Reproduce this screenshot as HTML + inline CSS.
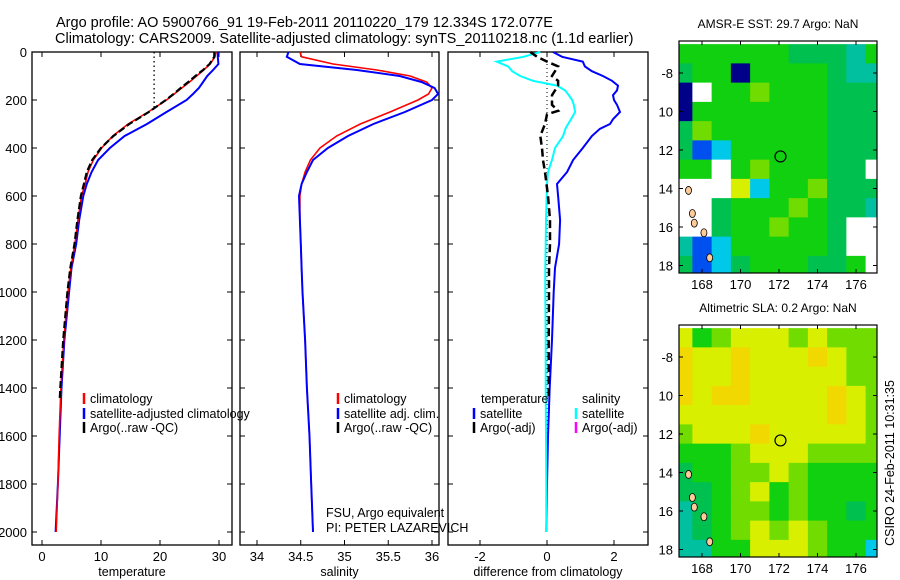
<!DOCTYPE html>
<html><head><meta charset="utf-8"><style>
body{margin:0;background:#fff;}
svg{display:block;font-family:"Liberation Sans",sans-serif;}
</style></head><body>
<svg id="fig" width="900" height="580" viewBox="0 0 900 580">
<text x="56" y="27" font-size="14.5">Argo profile: AO 5900766_91 19-Feb-2011 20110220_179 12.334S 172.077E</text>
<text x="55" y="43" font-size="14.5">Climatology: CARS2009. Satellite-adjusted climatology: synTS_20110218.nc (1.1d earlier)</text>
<g id="g"></g>
</svg>
<script>
const depths=[0,20,50,75,100,125,150,175,200,250,300,350,400,450,500,550,600,700,800,900,1000,1200,1400,1600,1800,2000];
const tempClim=[29.5,29.3,28.5,27.4,26.2,25.0,23.7,22.4,21.1,18.0,14.6,12.0,10.1,8.7,7.8,7.3,6.7,6.1,5.6,4.9,4.4,3.7,3.2,2.9,2.7,2.4];
const tempSat=[29.8,29.8,29.9,29.0,28.0,27.3,26.6,25.6,24.5,21.1,17.8,14.0,11.5,9.5,8.4,7.6,7.0,6.3,5.8,5.0,4.6,3.8,3.3,3.0,2.7,2.3];
const argoDepths=[0,20,50,75,100,125,150,175,200,250,300,350,400,450,500,550,600,700,800,900,1000,1200,1400,1450];
const tempArgo=[29.2,29.2,28.4,27.3,26.0,24.8,23.5,22.3,21.0,18.1,14.8,12.1,10.0,8.5,7.6,7.1,6.6,6.0,5.5,4.8,4.3,3.6,3.1,3.0];
const salClim=[34.49,34.51,34.87,35.37,35.75,35.94,36.0,35.96,35.84,35.52,35.18,34.91,34.72,34.61,34.55,34.51,34.49,34.49,34.5,34.51,34.52,34.55,34.57,34.6,34.62,34.64];
const salSat=[34.36,34.34,34.49,35.14,35.63,35.88,36.03,36.07,36.0,35.69,35.33,35.04,34.81,34.64,34.57,34.51,34.48,34.49,34.5,34.51,34.52,34.55,34.57,34.6,34.62,34.64];
const diffDepths=[0,20,40,60,80,100,120,140,160,180,200,220,250,280,300,320,350,400,450,500,550,600,700,800,900,1000,1200,1400,1600,1800,2000];
const diffTempSat=[0.18,0.45,1.07,1.13,1.34,1.67,1.94,2.12,2.09,1.97,2.0,2.09,2.18,1.97,1.88,1.58,1.34,1.07,0.78,0.6,0.3,0.33,0.39,0.36,0.24,0.2,0.15,0.08,0.03,0.0,-0.02];
const diffSalSat=[-0.2,-0.7,-1.5,-1.16,-1.04,-0.8,-0.42,0.3,0.54,0.65,0.75,0.8,0.84,0.72,0.63,0.55,0.48,0.24,0.15,0.03,0.0,-0.01,-0.03,-0.04,-0.05,-0.05,-0.04,-0.04,-0.03,-0.02,-0.02];
const diffArgoDepths=[0,20,40,60,80,100,120,140,180,220,245,260,300,350,400,450,500,600,700,800,900,1000,1200,1400,1450];
const diffTempArgo=[-0.5,-0.3,0.0,0.33,0.24,0.15,0.33,0.33,0.15,0.15,0.33,0.0,-0.06,-0.2,-0.15,-0.12,-0.06,0.03,0.09,0.09,0.06,0.06,0.05,0.05,0.05];
const depthTicks=[0,200,400,600,800,1000,1200,1400,1600,1800,2000];
const tempTicks=[0,10,20,30];
const salTicks=[34,34.5,35,35.5,36];
const salTickLabels=["34","34.5","35","35.5","36"];
const diffTicks=[-2,0,2];
const lonTicks=[168,170,172,174,176];
const latTicks=[-8,-10,-12,-14,-16,-18];
const latTickLabels=["-8","10","12","14","16","18"];
const mapLons=[167,168,169,170,171,172,173,174,175,176,177];
const mapLats=[-7,-8,-9,-10,-11,-12,-13,-14,-15,-16,-17,-18];
const sstGrid=["55555544435","45505555433","0W556555444","05555555444","46555555444","41255555444","55W5655544W","WWW72556444","WW455565443","WW4556554WW","312555554WW","4124555445W"];
const slaGrid=["75677767666","87787778766","87787777766","87887777876","77777777876","67778777776","55567776666","45566765555","44567565555","34566565545","34567676555","33557776552"];
const profileLat=-12.334, profileLon=172.077;

const NS='http://www.w3.org/2000/svg';
const G=document.getElementById('g');
function mk(tag,attrs,parent){const e=document.createElementNS(NS,tag);for(const k in attrs)e.setAttribute(k,attrs[k]);(parent||G).appendChild(e);return e;}
const yD=d=>52+0.24*d;
const xT=v=>42+5.9*v;
const xS=v=>257+87.5*(v-34);
const xF=v=>547+33.5*v;
function line(xs,ds,fx,col,w,dash,name){
  const pts=xs.map((v,i)=>fx(v).toFixed(1)+','+yD(ds[i]).toFixed(1)).join(' ');
  const p=mk('polyline',{points:pts,fill:'none',stroke:col,'stroke-width':w});
  if(dash)p.setAttribute('stroke-dasharray',dash);
  
  
}
function panel(x0,x1,ticks,fx,labels,title,name,yLabels){
  const g=mk('g',{});
  
  
  mk('rect',{x:x0,y:52,width:x1-x0,height:493,fill:'none',stroke:'#000','stroke-width':1.3},g);
  depthTicks.forEach(d=>{const y=yD(d);
    mk('line',{x1:x0,y1:y,x2:x0+5,y2:y,stroke:'#000'},g);
    mk('line',{x1:x1-5,y1:y,x2:x1,y2:y,stroke:'#000'},g);
    if(yLabels){const t=mk('text',{x:27,y:y+5,'font-size':13,'text-anchor':'end'},g);t.textContent=d;
      }
  });
  ticks.forEach((v,i)=>{const x=fx(v);
    mk('line',{x1:x,y1:52,x2:x,y2:57,stroke:'#000'},g);
    mk('line',{x1:x,y1:540,x2:x,y2:545,stroke:'#000'},g);
    const t=mk('text',{x:x,y:561,'font-size':13,'text-anchor':'middle'},g);t.textContent=labels[i];
    
  });
  const t=mk('text',{x:(x0+x1)/2,y:576,'font-size':12.5,'text-anchor':'middle'},g);t.textContent=title;
  
}
function txt(x,y,s,name,size,anchor){const t=mk('text',{x:x,y:y,'font-size':size||12.5,'text-anchor':anchor||'start'});t.textContent=s;
  return t;}
function legend(x,y,col,s,name){
  const l=mk('line',{x1:x,y1:y-10,x2:x,y2:y+1,stroke:col,'stroke-width':2.5});
  
  txt(x+6,y,s,name);
}
panel(32,232,tempTicks,xT,tempTicks.map(String),'temperature','temperature-panel',true);
panel(240,439,salTicks,xS,salTickLabels,'salinity','salinity-panel',false);
panel(448,648,diffTicks,xF,diffTicks.map(String),'difference from climatology','difference-panel',false);
const dl=mk('line',{x1:xT(19),y1:yD(0),x2:xT(19),y2:yD(240),stroke:'#000','stroke-dasharray':'1.5 3','stroke-width':1.3});

line(tempSat,depths,xT,'#0000ff',2,null,'temp-satellite-line');
line(tempClim,depths,xT,'#ff0000',1.6,null,'temp-climatology-line');
line(tempArgo,argoDepths,xT,'#000',2.2,'7 3','temp-argo-line');
line(salClim,depths,xS,'#ff0000',1.6,null,'sal-climatology-line');
line(salSat,depths,xS,'#0000ff',2,null,'sal-satellite-line');
const zl=mk('line',{x1:xF(0),y1:yD(0),x2:xF(0),y2:yD(2000),stroke:'#000','stroke-dasharray':'1 3','stroke-width':1});

line(diffTempSat,diffDepths,xF,'#0000ff',2,null,'diff-temp-satellite-line');
line(diffSalSat,diffDepths,xF,'#00ffff',2,null,'diff-sal-satellite-line');
line(diffTempArgo,diffArgoDepths,xF,'#000',2.5,'8 4','diff-temp-argo-line');
legend(84,403,'#ff0000','climatology','legend-climatology');
legend(84,418,'#0000ff','satellite-adjusted climatology','legend-satellite-adjusted');
legend(84,432,'#000','Argo(..raw -QC)','legend-argo');
legend(338,403,'#ff0000','climatology','legend2-climatology');
legend(338,418,'#0000ff','satellite adj. clim.','legend2-satellite');
legend(338,432,'#000','Argo(..raw -QC)','legend2-argo');
txt(481,403,'temperature','legend3-temperature-header');
txt(582,403,'salinity','legend3-salinity-header');
legend(474,418,'#0000ff','satellite','legend3-temp-satellite');
legend(474,432,'#000','Argo(-adj)','legend3-temp-argo');
legend(576,418,'#00ffff','satellite','legend3-sal-satellite');
legend(576,432,'#ff00ff','Argo(-adj)','legend3-sal-argo');
txt(326,517,'FSU, Argo equivalent','float-info-line-1');
txt(326,532,'PI: PETER LAZAREVICH','float-info-line-2');
const cmap={'0':'#000088','1':'#0050f0','2':'#00c8e8','3':'#00c0a0','4':'#00c050','5':'#10d010','6':'#70dc00','7':'#d8f000','8':'#f0d800','9':'#f0a800','W':'#ffffff'};
function map(top,bottom,grid,title,name,clipId){
  const x0=679,x1=877;
  const xL=lon=>702+19.25*(lon-168);
  const yL=lat=>top+32+19.25*(-8-lat);
  const g=mk('g',{});
  
  const cp=mk('clipPath',{id:clipId},g);mk('rect',{x:x0,y:top,width:x1-x0,height:bottom-top},cp);
  const cg=mk('g',{'clip-path':'url(#'+clipId+')'},g);
  mapLats.forEach((lat,r)=>mapLons.forEach((lon,c)=>{
    const v=grid[r][c];
    const rc=mk('rect',{x:xL(lon-0.5),y:yL(lat+0.5),width:19.8,height:19.8,fill:cmap[v]},cg);
    
  }));
  [[167.5,-15.3],[168.1,-16.3],[168.4,-17.6],[167.3,-14.1],[167.6,-15.8]].forEach(p=>{
    const e=mk('ellipse',{cx:xL(p[0]),cy:yL(p[1]),rx:3,ry:4,fill:'#ffcc99',stroke:'#000','stroke-width':0.8},cg);
    
  });
  mk('rect',{x:x0,y:top,width:x1-x0,height:bottom-top,fill:'none',stroke:'#000','stroke-width':1.2},g);
  const c=mk('circle',{cx:xL(profileLon),cy:yL(profileLat),r:5.5,fill:'none',stroke:'#000','stroke-width':1.2},g);
  
  lonTicks.forEach(l=>{const x=xL(l);
    mk('line',{x1:x,y1:top,x2:x,y2:top+4,stroke:'#000'},g);
    mk('line',{x1:x,y1:bottom-4,x2:x,y2:bottom,stroke:'#000'},g);
    const t=mk('text',{x:x,y:bottom+16,'font-size':13,'text-anchor':'middle'},g);t.textContent=l;
    });
  latTicks.forEach((l,i)=>{const y=yL(l);
    mk('line',{x1:x0,y1:y,x2:x0+4,y2:y,stroke:'#000'},g);
    mk('line',{x1:x1-4,y1:y,x2:x1,y2:y,stroke:'#000'},g);
    const t=mk('text',{x:673,y:y+5,'font-size':13,'text-anchor':'end'},g);t.textContent=latTickLabels[i];
    });
  const t=mk('text',{x:778,y:top-13,'font-size':12,'text-anchor':'middle'},g);t.textContent=title;
  
}
map(41,273,sstGrid,'AMSR-E SST: 29.7 Argo: NaN','sst-map','clipA');
map(325,557,slaGrid,'Altimetric SLA: 0.2 Argo: NaN','sla-map','clipB');
const ct=txt(0,0,'CSIRO 24-Feb-2011 10:31:35','timestamp-label',12.5,'middle');
ct.setAttribute('transform','translate(894,463) rotate(-90)');
</script>
</body></html>
